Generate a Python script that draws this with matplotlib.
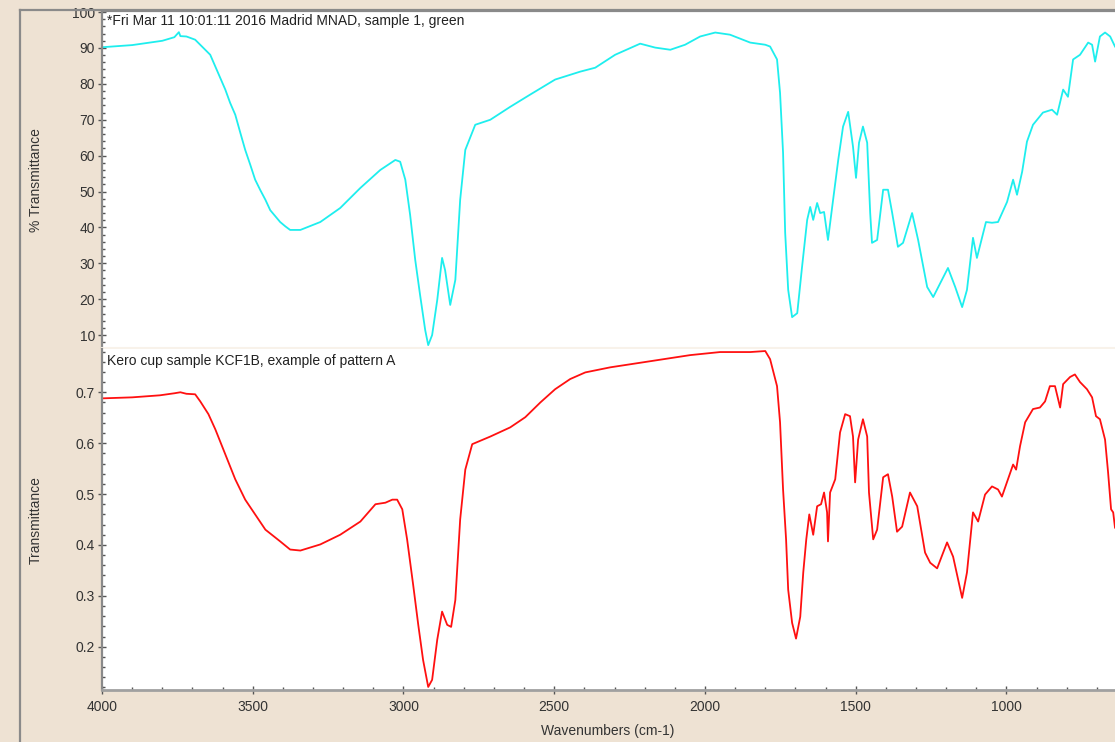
import numpy as np
import matplotlib
matplotlib.use("Agg")
import matplotlib.pyplot as plt
from matplotlib.lines import Line2D
from matplotlib.ticker import MultipleLocator

plt.rcParams['font.family'] = ['Liberation Sans', 'DejaVu Sans']

# upper spectrum: wavenumber (cm-1) and % transmittance
wn_top = [4000, 3900, 3800, 3760, 3745, 3740, 3720, 3691, 3641, 3591, 3575, 3558,
          3541, 3525, 3508, 3492, 3475, 3458, 3442, 3409, 3392, 3376, 3342, 3276,
          3210, 3143, 3077, 3027, 3011, 2994,
          2978, 2961, 2945, 2928, 2918, 2905, 2888, 2872, 2862, 2845, 2828, 2812,
          2795, 2762, 2712, 2646, 2580, 2497, 2414, 2364, 2298, 2215, 2165, 2115,
          2066, 2016, 1966, 1917, 1850, 1800, 1784, 1761, 1751, 1741, 1734, 1724,
          1711, 1694, 1678, 1661, 1651, 1641, 1628, 1618, 1605, 1592, 1575, 1558,
          1542, 1525, 1509, 1499, 1489, 1476, 1462, 1452, 1446, 1429, 1409, 1393,
          1379, 1360, 1343, 1313, 1293, 1263, 1243, 1214, 1194, 1170, 1147, 1131,
          1111, 1098, 1068, 1048, 1028, 998, 978, 965, 948, 932, 912, 879, 849,
          832, 812, 796, 779, 756, 729, 716, 706, 690, 673, 656, 640]
t_top = [90.2, 90.8, 92.0, 93.0, 94.4, 93.3, 93.2, 92.3, 88.1, 78.4, 74.7, 71.4,
         66.3, 61.6, 57.4, 53.3, 50.4, 47.7, 44.8, 41.5, 40.3, 39.3, 39.3, 41.5,
         45.4, 51.0, 56.0, 58.8, 58.3, 53.3,
         43.5, 30.9, 21.2, 11.4, 7.2, 10.0, 19.8, 31.5, 28.1, 18.4, 25.4, 47.7,
         61.6, 68.6, 70.0, 73.6, 77.0, 81.2, 83.4, 84.5, 88.1, 91.2, 90.1, 89.5,
         90.9, 93.2, 94.3, 93.7, 91.5, 90.9, 90.4, 86.8, 77.5, 60.8, 38.5, 22.6,
         15.0, 16.1, 29.0, 42.1, 45.7, 42.1, 46.8, 44.0, 44.3, 36.5, 47.7, 58.8,
         68.1, 72.2, 62.5, 53.8, 63.6, 68.1, 63.6, 44.0, 35.7, 36.5, 50.5, 50.5,
         44.0, 34.6, 35.7, 44.0, 36.5, 23.4, 20.6, 25.4, 28.7, 23.4, 17.8, 22.6,
         37.1, 31.5, 41.5, 41.3, 41.5, 47.1, 53.3, 49.1, 55.5, 63.9, 68.6, 72.0, 72.8,
         71.4, 78.4, 76.4, 86.8, 88.1, 91.5, 90.9, 86.2, 93.2, 94.3, 93.2, 90.4]

# lower spectrum: wavenumber (cm-1) and transmittance
wn_bot = [4000, 3900, 3808, 3760, 3740, 3720, 3691, 3674, 3647, 3624, 3591, 3558,
          3525, 3492, 3458, 3409, 3376, 3342, 3276, 3210, 3143, 3093, 3060, 3037,
          3021, 3004, 2988, 2968, 2951, 2935, 2918, 2905, 2888, 2872, 2855, 2842,
          2828, 2812, 2795, 2772, 2712, 2646, 2596, 2546, 2497, 2447, 2397, 2314,
          2182, 2049, 1950, 1850, 1800, 1784, 1761, 1751, 1741, 1731, 1724, 1711,
          1698, 1684, 1674, 1664, 1654, 1641, 1628, 1615, 1605, 1595, 1592, 1585,
          1568, 1552, 1535, 1519, 1509, 1502, 1492, 1476, 1462, 1456, 1442, 1429,
          1409, 1393, 1379, 1363, 1346, 1320, 1296, 1270, 1253, 1230, 1197, 1177,
          1147, 1131, 1111, 1094, 1071, 1048, 1028, 1015, 995, 978, 968, 955, 938,
          912, 889, 872, 856, 839, 822, 812, 789, 773, 756, 733, 716, 703, 690,
          673, 663, 653, 646, 640]
t_bot = [0.688, 0.690, 0.694, 0.698, 0.700, 0.697, 0.696, 0.682, 0.657, 0.627, 0.578, 0.529,
         0.489, 0.460, 0.430, 0.407, 0.391, 0.389, 0.401, 0.420, 0.446, 0.480, 0.483, 0.489,
         0.489, 0.470, 0.411, 0.322, 0.243, 0.174, 0.121, 0.135, 0.214, 0.269, 0.243, 0.239,
         0.292, 0.450, 0.548, 0.598, 0.613, 0.631, 0.651, 0.680, 0.706, 0.726, 0.739, 0.749,
         0.761, 0.773, 0.779, 0.779, 0.781, 0.765, 0.712, 0.641, 0.509, 0.411, 0.312, 0.247,
         0.216, 0.259, 0.346, 0.411, 0.460, 0.420, 0.476, 0.480, 0.503, 0.464, 0.407, 0.503,
         0.529, 0.621, 0.657, 0.653, 0.613, 0.523, 0.607, 0.647, 0.613, 0.503, 0.411, 0.430,
         0.533, 0.539, 0.495, 0.426, 0.436, 0.503, 0.476, 0.385, 0.365, 0.354, 0.405, 0.377,
         0.296, 0.346, 0.464, 0.446, 0.499, 0.515, 0.509, 0.495, 0.529, 0.558, 0.548, 0.594, 0.641,
         0.667, 0.670, 0.682, 0.712, 0.712, 0.670, 0.716, 0.730, 0.735, 0.720, 0.706, 0.690, 0.653, 0.647,
         0.607, 0.543, 0.470, 0.464, 0.434]

title_top = "*Fri Mar 11 10:01:11 2016 Madrid MNAD, sample 1, green"
title_bot = "Kero cup sample KCF1B, example of pattern A"

beige = '#EEE2D3'
frame = '#8A8A8A'
W, H = 1115, 742

fig = plt.figure(figsize=(11.15, 7.42), dpi=100)
fig.patch.set_facecolor(beige)

ax1 = fig.add_axes([102 / W, 1 - 348 / H, 1 - 102 / W, (348 - 11) / H])
ax2 = fig.add_axes([102 / W, 1 - 690 / H, 1 - 102 / W, (690 - 349) / H], sharex=ax1)

ax1.plot(wn_top, t_top, color='#1EEEEE', lw=1.3)
ax2.plot(wn_bot, t_bot, color='#FF1010', lw=1.3)

ax1.set_xlim(4000, 640)
ax1.set_ylim(6.4, 100.3)
ax2.set_ylim(0.115, 0.785)

for ax in (ax1, ax2):
    ax.set_facecolor('white')
    ax.spines['right'].set_visible(False)
    ax.spines['left'].set_color(frame)
    ax.spines['left'].set_linewidth(1.6)
    ax.tick_params(which='major', direction='inout', length=6, width=1,
                   color='#555555', labelsize=10, labelcolor='#333333', pad=2)
    ax.tick_params(which='minor', direction='in', length=2.5, width=1, color='#555555')
    ax.xaxis.set_major_locator(MultipleLocator(500))
    ax.xaxis.set_minor_locator(MultipleLocator(100))

ax1.spines['top'].set_color(frame)
ax1.spines['top'].set_linewidth(1.6)
ax1.spines['bottom'].set_color('#F8F2EA')
ax1.spines['bottom'].set_linewidth(1.5)
ax1.tick_params(axis='x', which='both', bottom=False, labelbottom=False)
ax1.yaxis.set_major_locator(MultipleLocator(10))
ax1.yaxis.set_minor_locator(MultipleLocator(2))

ax2.spines['top'].set_visible(False)
ax2.spines['bottom'].set_color('#A0A0A0')
ax2.spines['bottom'].set_linewidth(2)
ax2.yaxis.set_major_locator(MultipleLocator(0.1))
ax2.yaxis.set_minor_locator(MultipleLocator(0.02))
ax2.yaxis.set_major_formatter(plt.FuncFormatter(lambda v, p: f"{v:.1f}"))
ax2.tick_params(axis='x', pad=4)

ax1.text(0.005, 0.99, title_top, transform=ax1.transAxes, fontsize=10,
         color='#222222', va='top', ha='left')
ax2.text(0.005, 0.985, title_bot, transform=ax2.transAxes, fontsize=10,
         color='#222222', va='top', ha='left')

fig.text(36 / W, 1 - 180 / H, "% Transmittance", rotation=90, fontsize=10,
         color='#333333', ha='center', va='center')
fig.text(36 / W, 1 - 520 / H, "Transmittance", rotation=90, fontsize=10,
         color='#333333', ha='center', va='center')
fig.text(608 / W, 1 - 731 / H, "Wavenumbers (cm-1)", fontsize=10,
         color='#333333', ha='center', va='center')

# outer window frame
fig.add_artist(Line2D([20 / W, 20 / W], [0, 1 - 10 / H], transform=fig.transFigure,
                      color=frame, lw=1.6))
fig.add_artist(Line2D([20 / W, 1], [1 - 10 / H, 1 - 10 / H], transform=fig.transFigure,
                      color=frame, lw=1.6))

fig.savefig("out.png", dpi=100, facecolor=beige)
